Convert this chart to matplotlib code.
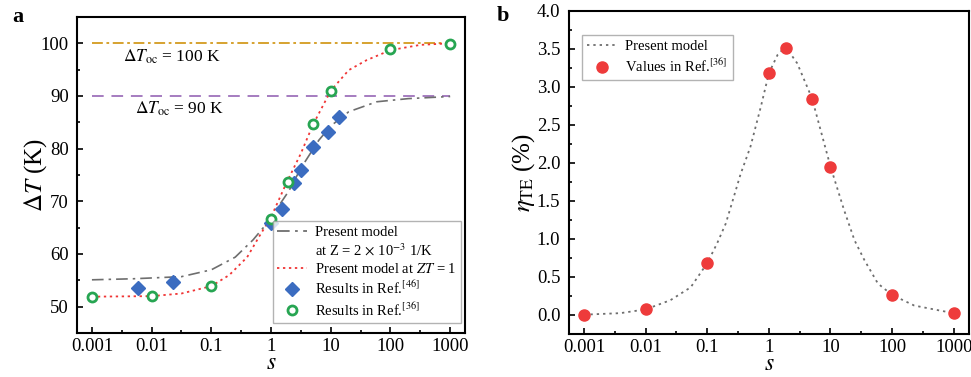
import numpy as np
import matplotlib
matplotlib.use("Agg")
import matplotlib.pyplot as plt
from matplotlib.lines import Line2D
from matplotlib.ticker import FixedLocator, MultipleLocator, NullFormatter, FormatStrFormatter

plt.rcParams['font.family'] = ['Liberation Serif', 'DejaVu Serif']
plt.rcParams['mathtext.fontset'] = 'stix'

# ---- panel a data ----
s_ref46 = [0.006, 0.023, 1.0, 1.5, 2.4, 3.2, 5.1, 9.1, 13.8]
dT_ref46 = [53.5, 54.6, 65.8, 68.5, 73.5, 76.0, 80.4, 83.2, 86.1]

s_ref36 = [0.001, 0.01, 0.1, 1.0, 1.9, 5.0, 10.0, 100.0, 1000.0]
dT_ref36 = [51.9, 52.1, 53.9, 66.6, 73.7, 84.7, 91.0, 98.9, 99.8]

# model curves (log10 s, dT)
logs_zt = [-3, -2.5, -2, -1.5, -1, -0.7, -0.4, -0.2, 0, 0.25, 0.5, 0.7, 1.0, 1.3, 1.6, 2.0, 2.5, 3.0]
dT_zt = [51.9, 51.95, 52.0, 52.5, 53.9, 56.0, 59.4, 63.3, 67.0, 73.3, 79.1, 84.5, 91.0, 94.9, 96.8, 98.7, 99.7, 100.0]

logs_z = [-3, -2.3, -1.5, -1, -0.6, -0.3, -0.07, 0.3, 0.5, 0.8, 1.0, 1.3, 1.77, 2.3, 3.0]
dT_z = [55.1, 55.3, 55.7, 57.0, 59.4, 62.7, 65.8, 72.0, 76.3, 81.6, 84.3, 87.0, 88.9, 89.5, 89.9]

s_line = [0.001, 1000]

# ---- panel b data ----
s_eta = [0.001, 0.01, 0.1, 1.0, 1.87, 5.0, 10.0, 100.0, 1000.0]
eta_ref36 = [0.0, 0.07, 0.68, 3.18, 3.51, 2.84, 1.94, 0.26, 0.02]

logs_eta = [-3, -2.41, -2, -1.6, -1.27, -1, -0.84, -0.7, -0.57, -0.46, -0.3, -0.13, 0.0, 0.14,
            0.27, 0.46, 0.7, 0.84, 1.0, 1.22, 1.39, 1.55, 1.77, 2.0, 2.36, 2.74, 3.0]
eta_model = [0.0, 0.02, 0.07, 0.19, 0.36, 0.68, 0.94, 1.2, 1.55, 1.85, 2.21, 2.74, 3.18, 3.42,
             3.53, 3.31, 2.85, 2.43, 1.95, 1.38, 0.98, 0.72, 0.41, 0.26, 0.12, 0.06, 0.02]

xticks = [0.001, 0.01, 0.1, 1, 10, 100, 1000]
xticklabels = ['0.001', '0.01', '0.1', '1', '10', '100', '1000']

fig = plt.figure(figsize=(9.71, 3.77), dpi=100)
ax1 = fig.add_axes([0.0793, 0.1167, 0.3997, 0.8383])
ax2 = fig.add_axes([0.5857, 0.115, 0.4123, 0.856])


def style_axes(ax):
    ax.set_xscale('log')
    ax.set_xlim(10**-3.25, 10**3.25)
    ax.xaxis.set_major_locator(FixedLocator(xticks))
    ax.set_xticklabels(xticklabels)
    ax.xaxis.set_minor_locator(FixedLocator([10**(k + 0.5) for k in range(-4, 4)]))
    ax.xaxis.set_minor_formatter(NullFormatter())
    for sp in ax.spines.values():
        sp.set_linewidth(1.5)
    ax.tick_params(which='major', direction='in', length=4.5, width=1.2, labelsize=13.5)
    ax.tick_params(which='minor', direction='in', length=2.5, width=1.2)
    ax.tick_params(axis='x', which='major', pad=3.5)
    ax.tick_params(axis='y', which='major', pad=6)
    ax.tick_params(top=False, right=False, which='both')
    ax.set_xlabel('$s$', fontsize=17, labelpad=-1)


# panel a
style_axes(ax1)
ax1.set_ylim(45, 105)
ax1.yaxis.set_major_locator(MultipleLocator(10))
ax1.yaxis.set_minor_locator(MultipleLocator(5))
ax1.plot(s_line, [100, 100], color='#D39B1F', lw=1.3, dashes=(6, 2, 1.5, 2))
ax1.plot(s_line, [90, 90], color='#A57CC0', lw=1.4, dashes=(6, 4))
ax1.plot(np.power(10.0, logs_z), dT_z, color='#6E6E6E', lw=1.2, dashes=(7, 3, 1.5, 3))
ax1.plot(np.power(10.0, logs_zt), dT_zt, color='#F03535', lw=1.3, dashes=(1.3, 2))
ax1.plot(s_ref46, dT_ref46, ls='none', marker='D', ms=7, color='#3B6CC0', mec='#3B6CC0')
ax1.plot(s_ref36, dT_ref36, ls='none', marker='o', ms=6.5, mfc='white', mec='#27A552', mew=2)
ax1.text(0.022, 97.4, r'$\Delta T_{\mathrm{oc}}$ = 100 K', fontsize=12.5, ha='center', va='center')
ax1.text(0.029, 87.5, r'$\Delta T_{\mathrm{oc}}$ = 90 K', fontsize=12.5, ha='center', va='center')
ax1.set_ylabel(r'$\Delta T$ (K)', fontsize=18)
ax1.yaxis.set_label_coords(-0.072, 0.5)

h_a = [Line2D([], [], color='#6E6E6E', lw=1.3, dashes=(7, 3, 1.5, 3)),
       Line2D([], [], ls='none'),
       Line2D([], [], color='#F03535', lw=1.3, dashes=(1.3, 2)),
       Line2D([], [], ls='none', marker='D', ms=7, color='#3B6CC0'),
       Line2D([], [], ls='none', marker='o', ms=6.5, mfc='white', mec='#27A552', mew=2)]
l_a = ['Present model', r'at Z = 2 $\times$ 10$^{-3}$ 1/K', r'Present model at $ZT$ = 1',
       r'Results in Ref.$^{[46]}$', r'Results in Ref.$^{[36]}$']
leg = ax1.legend(h_a, l_a, loc='lower right', bbox_to_anchor=(0.99, 0.032), fontsize=10.5,
                 frameon=True, fancybox=False, edgecolor='#A0A0A0', handlelength=2.0,
                 handletextpad=0.6, labelspacing=0.25, borderpad=0.3, borderaxespad=0)
leg.get_frame().set_linewidth(1.0)

# panel b
style_axes(ax2)
ax2.set_ylim(-0.25, 4.0)
ax2.yaxis.set_major_locator(MultipleLocator(0.5))
ax2.yaxis.set_minor_locator(MultipleLocator(0.25))
ax2.yaxis.set_major_formatter(FormatStrFormatter('%.1f'))
ax2.plot(np.power(10.0, logs_eta), eta_model, color='#6E6E6E', lw=1.3, dashes=(1.3, 2.2),
         label='Present model')
ax2.plot(s_eta, eta_ref36, ls='none', marker='o', ms=8, color='#EE3B3B',
         label=r'Values in Ref.$^{[36]}$')
ax2.set_ylabel(r'$\eta_{\mathrm{TE}}$ (%)', fontsize=18)
ax2.yaxis.set_label_coords(-0.08, 0.5)
leg2 = ax2.legend(loc='upper left', bbox_to_anchor=(0.033, 0.926), fontsize=10.5, frameon=True,
                  fancybox=False, edgecolor='#A0A0A0', handlelength=2.0, handletextpad=0.6,
                  labelspacing=0.3, borderpad=0.35, borderaxespad=0)
leg2.get_frame().set_linewidth(1.0)

fig.text(0.013, 0.955, 'a', fontsize=16, fontweight='bold', va='center')
fig.text(0.511, 0.957, 'b', fontsize=16, fontweight='bold', va='center')

fig.savefig('out.png', dpi=100)
